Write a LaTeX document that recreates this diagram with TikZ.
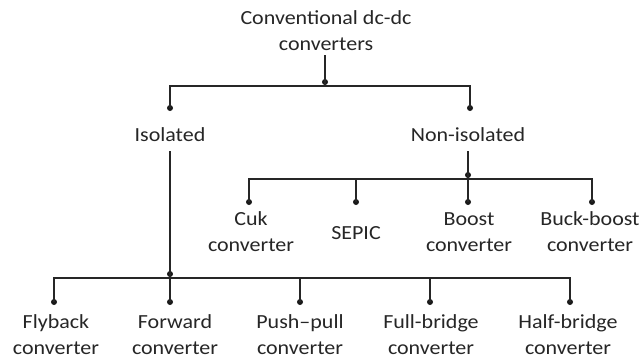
\documentclass[tikz,border=0pt]{standalone}
\usepackage{fontspec}
\setmainfont{Carlito}[FakeStretch=1.1]
\begin{document}
\begin{tikzpicture}[x=1pt,y=-1pt,
  lbl/.style={align=center, font=\fontsize{20}{26}\selectfont, inner sep=0pt, text=black!85},
  wire/.style={line width=1.3pt, draw=black!85},
  jdot/.style={circle, fill=black!90, inner sep=0pt, minimum size=6pt}]
\useasboundingbox[fill=white] (0,0) rectangle (641,360);

% labels
\node[lbl] (root) at (326,31) {Conventional dc-dc\\converters};
\node[lbl] (iso) at (170,135) {Isolated};
\node[lbl] (non) at (468,135) {Non-isolated};
\node[lbl] (cuk) at (251,232) {Cuk\\converter};
\node[lbl] (sepic) at (356,233) {SEPIC};
\node[lbl] (boost) at (469,232) {Boost\\converter};
\node[lbl] (bb) at (590,232) {Buck-boost\\converter};
\node[lbl] (fly) at (56,335) {Flyback\\converter};
\node[lbl] (fwd) at (175,335) {Forward\\converter};
\node[lbl] (pp) at (300,335) {Push–pull\\converter};
\node[lbl] (fb) at (431,335) {Full-bridge\\converter};
\node[lbl] (hb) at (568,335) {Half-bridge\\converter};

% dots
\node[jdot] (rj) at (325,82) {};
\node[jdot] (isod) at (170,108) {};
\node[jdot] (nond) at (470,108) {};
\node[jdot] (nj) at (468,175) {};
\node[jdot] (cukd) at (249,202) {};
\node[jdot] (sepd) at (356,202) {};
\node[jdot] (boostd) at (468,202) {};
\node[jdot] (bbd) at (592,202) {};
\node[jdot] (ij) at (170,274) {};
\node[jdot] (flyd) at (54,302) {};
\node[jdot] (fwdd) at (170,302) {};
\node[jdot] (ppd) at (300,302) {};
\node[jdot] (fbd) at (430,302) {};
\node[jdot] (hbd) at (570,302) {};

\coordinate (rbar) at (325,86);
\coordinate (nbar) at (468,179);
\coordinate (ibar) at (170,278);

% connectors
\draw[wire, shorten <=4pt] (root.south -| rbar) -- (rbar);
\draw[wire] (isod.center) |- (rbar) -| (nond.center);
\draw[wire, shorten <=9pt] (iso.south) -- (fwdd.center);
\draw[wire, shorten <=9pt] (non.south) -- (boostd.center);
\draw[wire] (cukd.center) |- (nbar) -| (bbd.center);
\draw[wire] (sepd.center) -- (sepd.center |- nbar);
\draw[wire] (flyd.center) |- (ibar) -| (hbd.center);
\draw[wire] (ppd.center) -- (ppd.center |- ibar);
\draw[wire] (fbd.center) -- (fbd.center |- ibar);
\end{tikzpicture}
\end{document}
